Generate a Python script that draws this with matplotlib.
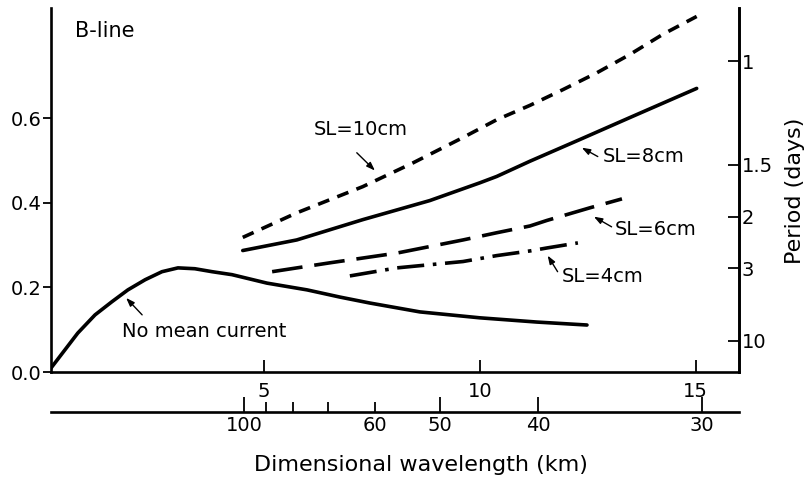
import numpy as np
import matplotlib
matplotlib.use("Agg")
import matplotlib.pyplot as plt

# dimensionless wavenumber (x) and frequency (y)
x_nomean = [0.0, 0.39, 0.69, 1.09, 1.48, 1.85, 2.25, 2.64, 3.01, 3.40, 3.80, 4.26,
            5.07, 6.0, 6.76, 7.45, 8.61, 10.0, 11.32, 12.48]
y_nomean = [0.0, 0.052, 0.092, 0.135, 0.166, 0.194, 0.218, 0.237, 0.246, 0.244, 0.237, 0.230,
            0.21, 0.194, 0.177, 0.163, 0.142, 0.128, 0.118, 0.111]

x_sl10 = [4.51, 5.76, 7.29, 8.45, 9.61, 10.39, 11.16, 11.92, 12.71, 13.47, 14.24, 15.02]
y_sl10 = [0.318, 0.376, 0.438, 0.494, 0.554, 0.596, 0.630, 0.667, 0.707, 0.750, 0.798, 0.840]

x_sl8 = [4.51, 5.76, 7.29, 8.84, 10.0, 10.39, 11.16, 12.31, 13.47, 15.02]
y_sl8 = [0.287, 0.312, 0.360, 0.405, 0.447, 0.462, 0.498, 0.549, 0.601, 0.670]

x_sl6 = [5.19, 6.53, 8.08, 9.61, 10.39, 11.16, 11.55, 12.55, 13.29]
y_sl6 = [0.237, 0.258, 0.281, 0.312, 0.329, 0.345, 0.358, 0.388, 0.409]

x_sl4 = [6.99, 8.08, 9.61, 10.39, 11.16, 11.55, 12.27]
y_sl4 = [0.227, 0.246, 0.261, 0.275, 0.286, 0.293, 0.305]

y_ticks = [0.0, 0.2, 0.4, 0.6]
x_ticks = [5, 10, 15]
period_ticks = [1, 1.5, 2, 3, 10]
period_labels = ["1", "1.5", "2", "3", "10"]
wl_major = [100, 50, 40, 30]
wl_minor = [90, 80, 70, 60]
wl_minor_labels = ["", "", "", "60"]

# conversion constants
WL_CONST = 454.0     # wavelength (km) = WL_CONST / x
PER_CONST = 0.734    # period (days) = PER_CONST / y


def k_to_wl(k):
    k = np.asarray(k, dtype=float)
    with np.errstate(divide="ignore", invalid="ignore"):
        return WL_CONST / np.where(k == 0, 1e-9, k)


def w_to_period(w):
    w = np.asarray(w, dtype=float)
    with np.errstate(divide="ignore", invalid="ignore"):
        return PER_CONST / np.where(w == 0, 1e-9, w)


plt.rcParams["font.family"] = "DejaVu Sans"
fig = plt.figure(figsize=(8.08, 4.8), dpi=100)
ax = fig.add_axes([51 / 808, 1 - 372 / 480, (739 - 51) / 808, (372 - 8) / 480])

lw = 2.6
ax.plot(x_nomean, y_nomean, color="black", lw=lw, solid_capstyle="round", solid_joinstyle="round")
ax.plot(x_sl10, y_sl10, color="black", lw=lw, linestyle=(0, (3.3, 2.4)))
ax.plot(x_sl8, y_sl8, color="black", lw=lw, solid_capstyle="round", solid_joinstyle="round")
ax.plot(x_sl6, y_sl6, color="black", lw=lw, linestyle=(0, (8.5, 3.3)))
ax.plot(x_sl4, y_sl4, color="black", lw=lw, linestyle=(0, (7.5, 2.4, 1.0, 2.4)))

ax.set_xlim(0.07, 16.0)
ax.set_ylim(0, 0.86)
ax.spines["top"].set_visible(False)
for s in ["left", "bottom", "right"]:
    ax.spines[s].set_linewidth(1.9)

ax.set_yticks(y_ticks)
ax.set_yticklabels(["0.0", "0.2", "0.4", "0.6"])
ax.tick_params(axis="y", direction="out", length=6, width=1.3, labelsize=14, pad=1)
ax.set_xticks(x_ticks)
ax.tick_params(axis="x", direction="in", length=9, width=1.3, labelsize=14, pad=7)

# period axis on the right
sec_y = ax.secondary_yaxis("right", functions=(w_to_period, w_to_period))
sec_y.set_yticks(period_ticks)
sec_y.set_yticklabels(period_labels)
sec_y.tick_params(axis="y", direction="in", length=8, width=1.3, labelsize=14, pad=2)
sec_y.spines["right"].set_linewidth(1.9)

# dimensional wavelength axis below
sec_x = ax.secondary_xaxis(-0.11, functions=(k_to_wl, k_to_wl))
sec_x.set_xticks(wl_major)
sec_x.set_xticks(wl_minor, minor=True)
sec_x.set_xticklabels(wl_minor_labels, minor=True)
sec_x.tick_params(axis="x", which="major", direction="in", length=11, width=1.3, labelsize=14, pad=3)
sec_x.tick_params(axis="x", which="minor", direction="in", length=7, width=1.3, labelsize=14, pad=3)
sec_x.spines["bottom"].set_linewidth(1.9)

# labels and annotations
ax.text(0.625, 0.805, "B-line", fontsize=15, va="center", ha="left")
fig.text(421 / 808, 1 - 465 / 480, "Dimensional wavelength (km)", fontsize=16, ha="center", va="center")
fig.text(795 / 808, 1 - 191 / 480, "Period (days)", fontsize=16, ha="center", va="center", rotation=90)

arrow = dict(arrowstyle="-|>,head_length=0.5,head_width=0.18", color="black", lw=1.0, shrinkA=0, shrinkB=0)
ax.text(7.24, 0.573, "SL=10cm", fontsize=14, ha="center", va="center")
ax.annotate("", xy=(7.57, 0.476), xytext=(7.15, 0.518), arrowprops=arrow)
ax.text(12.85, 0.510, "SL=8cm", fontsize=14, ha="left", va="center")
ax.annotate("", xy=(12.36, 0.530), xytext=(12.73, 0.509), arrowprops=arrow)
ax.text(13.125, 0.336, "SL=6cm", fontsize=14, ha="left", va="center")
ax.annotate("", xy=(12.64, 0.367), xytext=(13.05, 0.343), arrowprops=arrow)
ax.text(11.9, 0.225, "SL=4cm", fontsize=14, ha="left", va="center")
ax.annotate("", xy=(11.57, 0.275), xytext=(11.8, 0.237), arrowprops=arrow)
ax.text(1.71, 0.095, "No mean current", fontsize=14, ha="left", va="center")
ax.annotate("", xy=(1.81, 0.175), xytext=(2.18, 0.135), arrowprops=arrow)

fig.savefig("out.png", dpi=100)
